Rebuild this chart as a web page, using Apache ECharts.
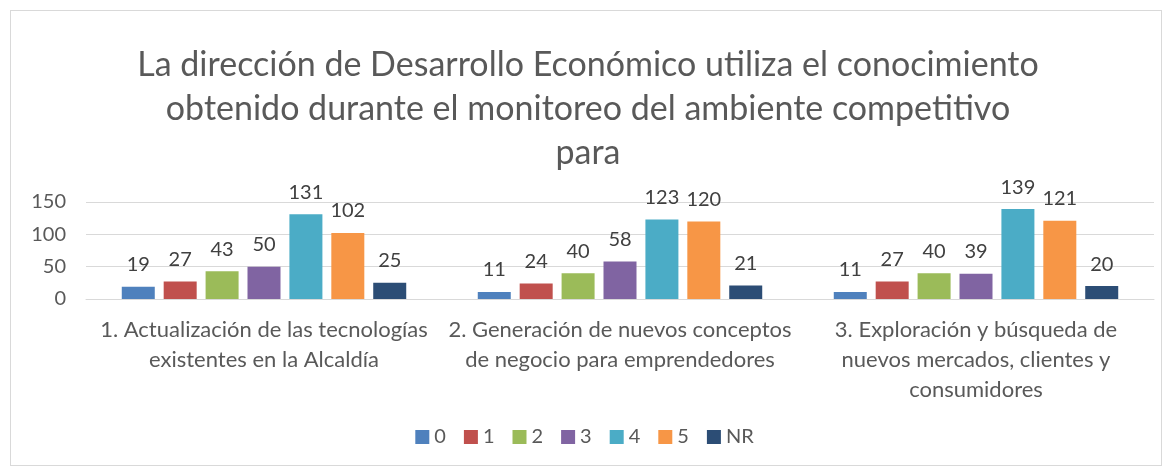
<!DOCTYPE html>
<html>
<head>
<meta charset="utf-8">
<script src="https://cdn.jsdelivr.net/npm/echarts@6/dist/echarts.min.js"></script>
<style>
  html, body { margin: 0; padding: 0; background: #fff; }
  #main { width: 1169px; height: 474px; }
  .frame { position: absolute; left: 10px; top: 10px; width: 1150px; height: 454px; border: 1px solid #d9d9d9; pointer-events: none; }
</style>
</head>
<body>
<div id="main"></div>
<div class="frame"></div>
<script>
var categories = [
  "1. Actualización de las tecnologías\nexistentes en la Alcaldía",
  "2. Generación de nuevos conceptos\nde negocio para emprendedores",
  "3. Exploración y búsqueda de\nnuevos mercados, clientes y\nconsumidores"
];
var seriesNames = ["0", "1", "2", "3", "4", "5", "NR"];
var s0 = [19, 11, 11];
var s1 = [27, 24, 27];
var s2 = [43, 40, 40];
var s3 = [50, 58, 39];
var s4 = [131, 123, 139];
var s5 = [102, 120, 121];
var sNR = [25, 21, 20];
var colors = ["#4f81bd", "#c0504d", "#9bbb59", "#8064a2", "#4bacc6", "#f79646", "#2c4d75"];

var font = "Lato, 'Open Sans', sans-serif";
var allData = [s0, s1, s2, s3, s4, s5, sNR];

var myChart = echarts.init(document.getElementById("main"));
var series = seriesNames.map(function (name, i) {
  return {
    name: name,
    type: "bar",
    data: allData[i],
    barWidth: 33,
    barGap: "27%",
    itemStyle: { color: colors[i] },
    label: {
      show: true,
      position: "top",
      distance: 12,
      color: "#404040",
      fontSize: 20,
      fontFamily: font
    }
  };
});

var option = {
  animation: false,
  backgroundColor: "#fff",
  title: {
    text: "La dirección de Desarrollo Económico utiliza el conocimiento\nobtenido durante el monitoreo del ambiente competitivo\npara",
    left: 583,
    textAlign: "center",
    top: 38,
    textStyle: {
      color: "#595959",
      fontSize: 34,
      fontWeight: "normal",
      fontFamily: font,
      lineHeight: 44
    }
  },
  legend: {
    data: seriesNames,
    bottom: 22,
    left: "center",
    itemWidth: 14,
    itemHeight: 14,
    itemGap: 18,
    icon: "rect",
    textStyle: { color: "#595959", fontSize: 20, fontFamily: font }
  },
  grid: { left: 86, right: 15, top: 202, bottom: 175 },
  xAxis: {
    type: "category",
    data: categories,
    axisLine: { lineStyle: { color: "#d9d9d9" } },
    axisTick: { show: false },
    axisLabel: {
      color: "#595959",
      fontSize: 22,
      fontFamily: font,
      lineHeight: 30,
      margin: 16,
      interval: 0
    }
  },
  yAxis: {
    type: "value",
    min: 0,
    max: 150,
    interval: 50,
    axisLine: { show: false },
    axisTick: { show: false },
    splitLine: { lineStyle: { color: "#d9d9d9", width: 1 } },
    axisLabel: { color: "#595959", fontSize: 20, fontFamily: font, margin: 20 }
  },
  series: series
};
myChart.setOption(option);
</script>
</body>
</html>
